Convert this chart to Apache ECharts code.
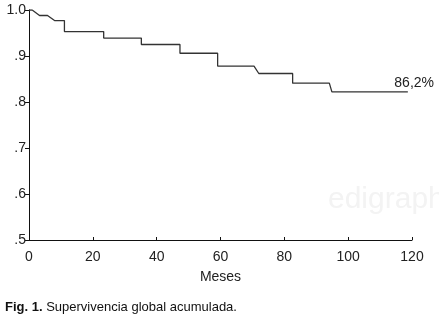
<!DOCTYPE html>
<html><head><meta charset="utf-8">
<script src="https://cdn.jsdelivr.net/npm/echarts@6/dist/echarts.min.js"></script>
<style>html,body{margin:0;padding:0;background:#fff}#c{width:439px;height:322px}</style>
</head><body><div id="c"></div>
<script>
// Data
var months   = [0, 1, 3.3, 5.8, 8, 11.1, 11.1, 23.4, 23.4, 35.2, 35.2, 47.3, 47.3, 59.1, 59.1, 70.5, 72, 82.6, 82.6, 94.1, 94.9, 118.7];
var survival = [1.0, 1.0, 0.988, 0.988, 0.977, 0.977, 0.953, 0.953, 0.939, 0.939, 0.925, 0.925, 0.906, 0.906, 0.878, 0.878, 0.862, 0.862, 0.841, 0.841, 0.822, 0.822];
var yTickLabels = {'0.5': '.5', '0.6': '.6', '0.7': '.7', '0.8': '.8', '0.9': '.9', '1': '1.0'};
var endLabel = '86,2%';
var xName = 'Meses';
var captionBold = 'Fig. 1.';
var captionText = ' Supervivencia global acumulada.';

var pts = months.map(function (m, i) { return [m, survival[i]]; });
var font = 'Liberation Sans, Arial, sans-serif';
var chart = echarts.init(document.getElementById('c'));
chart.setOption({
  animation: false,
  grid: {left: 29, right: 27, top: 10, bottom: 82},
  xAxis: {
    type: 'value', min: 0, max: 120, interval: 20,
    name: xName, nameLocation: 'middle', nameGap: 30,
    nameTextStyle: {fontFamily: font, fontSize: 14, color: '#222'},
    axisLine: {show: true, lineStyle: {color: '#111', width: 1}},
    axisTick: {show: true, inside: true, length: 3, lineStyle: {color: '#111'}},
    axisLabel: {fontFamily: font, fontSize: 14, color: '#222', margin: 10},
    splitLine: {show: false}
  },
  yAxis: {
    type: 'value', min: 0.5, max: 1.0, interval: 0.1,
    axisLine: {show: true, lineStyle: {color: '#111', width: 1}},
    axisTick: {show: true, length: 4, lineStyle: {color: '#111'}},
    axisLabel: {fontFamily: font, fontSize: 14, color: '#222', margin: 3,
      formatter: function (v) { var k = String(Math.round(v * 10) / 10); return yTickLabels[k] || ''; }},
    splitLine: {show: false}
  },
  series: [{
    type: 'line', data: pts, showSymbol: false, symbol: 'none',
    lineStyle: {color: '#333', width: 1.3}
  }],
  graphic: [
    {type: 'text', left: 328, top: 185, z: -1, silent: true,
      style: {text: 'edigraphic', font: '30px ' + font, fill: '#f3f3f3'}},
    {type: 'text', x: 434, y: 83, style: {text: endLabel, font: '14px ' + font, fill: '#222', align: 'right', verticalAlign: 'middle'}},
    {type: 'text', x: 5, y: 307, style: {
      text: '{b|' + captionBold + '}{n|' + captionText + '}',
      verticalAlign: 'middle',
      rich: {b: {font: 'bold 13px ' + font, fill: '#111'}, n: {font: '13px ' + font, fill: '#111'}}
    }}
  ]
});
</script></body></html>
